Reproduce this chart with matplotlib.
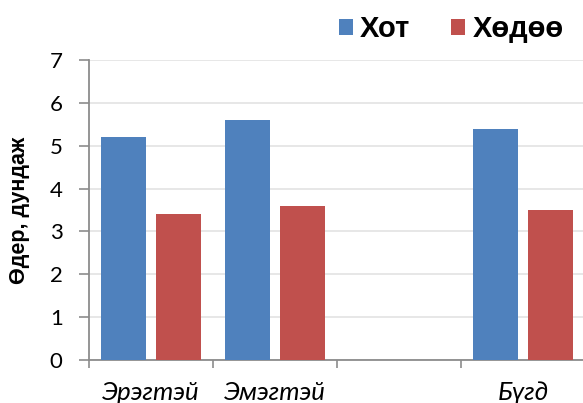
import numpy as np
import matplotlib
matplotlib.use("Agg")
import matplotlib.pyplot as plt
from matplotlib.patches import Patch

# Survey averages by group (days)
categories = ["Эрэгтэй", "Эмэгтэй", "", "Бүгд"]
series_names = ["Хот", "Хөдөө"]
hot = [5.2, 5.6, np.nan, 5.4]
hodoo = [3.4, 3.6, np.nan, 3.5]
y_ticks = [0, 1, 2, 3, 4, 5, 6, 7]
y_label = "Өдер, дундаж"

blue = "#4F81BD"
red = "#C0504D"
axis_gray = "#8C8C8C"
grid_gray = "#E3E3E3"

fig = plt.figure(figsize=(5.83, 4.03), dpi=100)
ax = fig.add_axes([89 / 583, 43 / 403, 496 / 583, 300 / 403])

x = np.arange(len(categories))
width = 0.37
offset = 0.222
ax.bar(x - offset, hot, width, color=blue, zorder=3)
ax.bar(x + offset, hodoo, width, color=red, zorder=3)

ax.set_xlim(-0.5, len(categories) - 0.5)
ax.set_ylim(0, 7)

# Gridlines and spines
ax.set_yticks(y_ticks)
ax.yaxis.grid(True, color=grid_gray, linewidth=1.2, zorder=0)
ax.set_axisbelow(True)
for side in ("top", "right"):
    ax.spines[side].set_visible(False)
for side in ("left", "bottom"):
    ax.spines[side].set_color(axis_gray)
    ax.spines[side].set_linewidth(1.3)

ax.tick_params(axis="y", which="major", direction="out", length=7, width=1.2,
               color=axis_gray, pad=12, labelsize=16)
for lbl in ax.get_yticklabels():
    lbl.set_fontfamily("Lato")

# Category boundaries as major ticks, names on minor ticks at centers
ax.set_xticks(np.arange(-0.5, len(categories) + 0.5, 1.0))
ax.set_xticklabels([])
ax.tick_params(axis="x", which="major", direction="out", length=6, width=1.2,
               color=axis_gray)
ax.set_xticks(x, minor=True)
ax.set_xticklabels(categories, minor=True, fontsize=18.5, fontstyle="italic",
                   fontfamily="Lato")
ax.tick_params(axis="x", which="minor", length=0, pad=15)

ax.set_ylabel(y_label, fontsize=15.5, fontweight="bold",
              fontfamily="Liberation Sans", labelpad=14)

handles = [Patch(facecolor=blue), Patch(facecolor=red)]
fig.legend(handles, series_names, loc="center", bbox_to_anchor=(451 / 583, 1 - 29 / 403),
           ncol=2, frameon=False, handlelength=0.48, handleheight=0.48,
           handletextpad=0.25, columnspacing=1.4, borderpad=0,
           prop={"family": "Liberation Sans", "weight": "bold", "size": 21})

fig.savefig("out.png", dpi=100)
